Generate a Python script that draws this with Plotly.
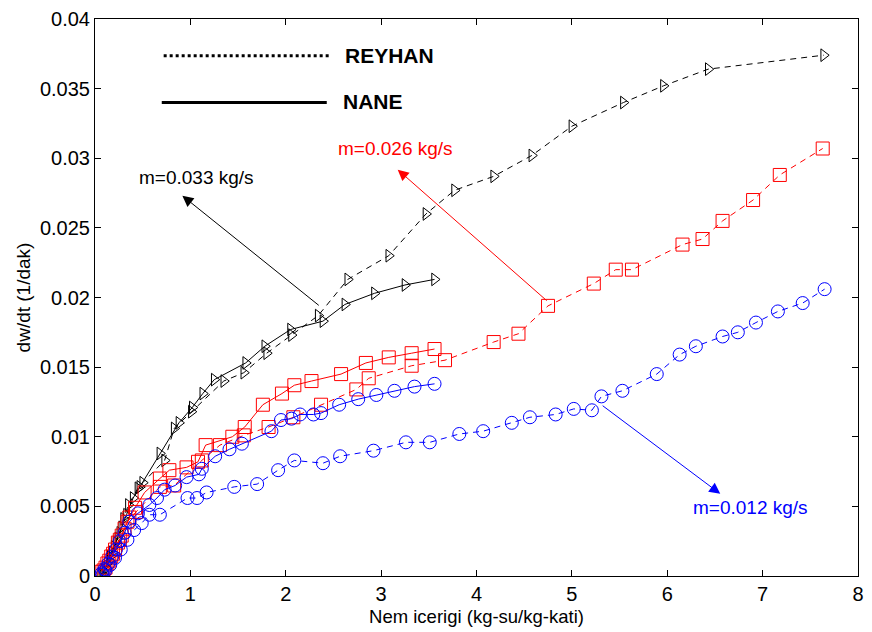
import plotly.graph_objects as go

# Drying rate curves: moisture content (kg water / kg solid) vs dw/dt (1/min)
# REYHAN = dashed lines, NANE = solid lines, three air mass flow rates

# m = 0.033 kg/s
reyhan_033_x = [0.08, 0.11, 0.15, 0.18, 0.22, 0.26, 0.30, 0.35, 0.45, 0.50, 0.73, 0.83, 1.01,
                1.35, 1.56, 1.80, 2.06, 2.34, 2.65, 3.08, 3.47, 3.77, 4.18, 4.58, 5.00, 5.54,
                5.96, 6.43, 7.64]
reyhan_033_y = [0.0001, 0.0006, 0.0011, 0.0017, 0.0024, 0.0031, 0.0041, 0.0051, 0.0063, 0.0067,
                0.0083, 0.0106, 0.0118, 0.0140, 0.0146, 0.0160, 0.0173, 0.0187, 0.0213, 0.0230,
                0.0260, 0.0277, 0.0287, 0.0302, 0.0323, 0.0340, 0.0352, 0.0364, 0.0374]
nane_033_x = [0.06, 0.09, 0.13, 0.16, 0.20, 0.24, 0.28, 0.33, 0.40, 0.47, 0.68, 0.88, 1.02,
              1.13, 1.25, 1.58, 1.78, 2.05, 2.39, 2.62, 2.93, 3.25, 3.56]
nane_033_y = [0.0001, 0.0004, 0.0009, 0.0014, 0.0021, 0.0027, 0.0035, 0.0044, 0.0056, 0.0064,
              0.0088, 0.0110, 0.0121, 0.0131, 0.0141, 0.0153, 0.0165, 0.0177, 0.0183, 0.0195,
              0.0203, 0.0209, 0.0213]

# m = 0.026 kg/s
reyhan_026_x = [0.07, 0.11, 0.15, 0.19, 0.24, 0.28, 0.34, 0.43, 0.68, 0.83, 1.12, 1.31, 1.56,
                1.82, 2.08, 2.37, 2.74, 2.87, 3.32, 3.67, 4.18, 4.44, 4.75, 5.23, 5.46, 5.63,
                6.16, 6.37, 6.58, 6.90, 7.18, 7.63]
reyhan_026_y = [0.0003, 0.0006, 0.0011, 0.0016, 0.0024, 0.0029, 0.0039, 0.0046, 0.0064, 0.0065,
                0.0083, 0.0094, 0.0101, 0.0107, 0.0114, 0.0123, 0.0134, 0.0142, 0.0151, 0.0155,
                0.0168, 0.0174, 0.0194, 0.0210, 0.0220, 0.0220, 0.0238, 0.0242, 0.0255, 0.0270,
                0.0288, 0.0307]
nane_026_x = [0.09, 0.13, 0.17, 0.21, 0.26, 0.31, 0.36, 0.42, 0.52, 0.68, 0.78, 0.96, 1.08,
              1.16, 1.44, 1.57, 1.76, 1.96, 2.09, 2.27, 2.58, 2.84, 3.08, 3.32, 3.56]
nane_026_y = [0.0004, 0.0009, 0.0014, 0.0019, 0.0026, 0.0034, 0.0042, 0.0049, 0.0060, 0.0070,
              0.0076, 0.0078, 0.0082, 0.0094, 0.0100, 0.0107, 0.0123, 0.0131, 0.0137, 0.0140,
              0.0145, 0.0153, 0.0157, 0.0160, 0.0163]

# m = 0.012 kg/s
reyhan_012_x = [0.08, 0.11, 0.16, 0.21, 0.27, 0.34, 0.41, 0.49, 0.57, 0.68, 0.97, 1.07, 1.17,
                1.46, 1.70, 1.92, 2.09, 2.39, 2.57, 2.92, 3.26, 3.51, 3.82, 4.07, 4.37, 4.56,
                4.83, 5.02, 5.21, 5.31, 5.53, 5.89, 6.13, 6.30, 6.58, 6.74, 6.93, 7.16, 7.42,
                7.65]
reyhan_012_y = [0.0001, 0.0004, 0.0008, 0.0013, 0.0019, 0.0026, 0.0033, 0.0038, 0.0044, 0.0044,
                0.0056, 0.0056, 0.0060, 0.0064, 0.0066, 0.0076, 0.0083, 0.0081, 0.0086, 0.0090,
                0.0096, 0.0096, 0.0102, 0.0104, 0.0110, 0.0114, 0.0116, 0.0120, 0.0119, 0.0129,
                0.0133, 0.0145, 0.0159, 0.0165, 0.0172, 0.0175, 0.0182, 0.0190, 0.0196, 0.0206]
nane_012_x = [0.07, 0.10, 0.14, 0.18, 0.22, 0.26, 0.31, 0.36, 0.45, 0.57, 0.65, 0.73, 0.84,
              0.96, 1.09, 1.12, 1.26, 1.41, 1.54, 1.85, 1.95, 2.06, 2.15, 2.29, 2.37, 2.56,
              2.76, 2.95, 3.14, 3.35, 3.56]
nane_012_y = [0.0002, 0.0005, 0.0009, 0.0014, 0.0019, 0.0025, 0.0031, 0.0039, 0.0045, 0.0051,
              0.0056, 0.0062, 0.0065, 0.0071, 0.0073, 0.0077, 0.0086, 0.0091, 0.0095, 0.0104,
              0.0112, 0.0113, 0.0116, 0.0116, 0.0117, 0.0123, 0.0127, 0.0130, 0.0133, 0.0136,
              0.0138]

x_ticks = [0, 1, 2, 3, 4, 5, 6, 7, 8]
y_ticks = [0, 0.005, 0.01, 0.015, 0.02, 0.025, 0.03, 0.035, 0.04]

BLACK, RED, BLUE = "#000000", "#ff0000", "#0000ff"
FONT = "Liberation Sans, Arial, sans-serif"

series = [
    (reyhan_033_x, reyhan_033_y, BLACK, "triangle-right-open", 11, "6px,5px"),
    (nane_033_x, nane_033_y, BLACK, "triangle-right-open", 11, "solid"),
    (reyhan_026_x, reyhan_026_y, RED, "square-open", 13, "6px,5px"),
    (nane_026_x, nane_026_y, RED, "square-open", 13, "solid"),
    (reyhan_012_x, reyhan_012_y, BLUE, "circle-open", 13, "6px,5px"),
    (nane_012_x, nane_012_y, BLUE, "circle-open", 13, "solid"),
]

fig = go.Figure()
for xs, ys, col, sym, size, dash in series:
    fig.add_trace(go.Scatter(
        x=xs, y=ys, mode="lines+markers",
        line=dict(color=col, width=1, dash=dash),
        marker=dict(symbol=sym, size=size, color=col, line=dict(color=col, width=1)),
        showlegend=False, hoverinfo="skip",
    ))

# key in the upper-left corner
fig.add_shape(type="line", xref="x", yref="y", x0=0.72, x1=2.45, y0=0.03736, y1=0.03736,
              line=dict(color=BLACK, width=3, dash="dot"))
fig.add_shape(type="line", xref="x", yref="y", x0=0.70, x1=2.43, y0=0.0340, y1=0.0340,
              line=dict(color=BLACK, width=3))
for label, lx, ly in [("REYHAN", 2.60, 0.03736), ("NANE", 2.58, 0.0341)]:
    fig.add_annotation(x=lx, y=ly, xref="x", yref="y", text=f"<b>{label}</b>", showarrow=False,
                       xanchor="left", yanchor="middle",
                       font=dict(family=FONT, size=21, color=BLACK))

# flow-rate labels with pointer arrows
arrows = [
    ("m=0.033 kg/s", BLACK, 1.06, 0.0286, 0.916, 0.02731, 2.362, 0.01935),
    ("m=0.026 kg/s", RED, 3.153, 0.0307, 3.174, 0.02918, 4.752, 0.01968),
    ("m=0.012 kg/s", BLUE, 6.878, 0.0049, 6.556, 0.0059, 5.307, 0.01231),
]
for text, col, tx, ty, hx, hy, sx, sy in arrows:
    fig.add_annotation(x=hx, y=hy, ax=sx, ay=sy, xref="x", yref="y", axref="x", ayref="y",
                       text="", showarrow=True, arrowhead=2, arrowsize=2.2, arrowwidth=1,
                       arrowcolor=col)
    fig.add_annotation(x=tx, y=ty, xref="x", yref="y", text=text, showarrow=False,
                       xanchor="center", yanchor="middle",
                       font=dict(family=FONT, size=19, color=col))

axis_common = dict(
    showgrid=False, zeroline=False, showline=True, linecolor=BLACK, linewidth=1,
    mirror="ticks", ticks="inside", ticklen=6, tickwidth=1, tickcolor=BLACK,
    tickfont=dict(family=FONT, size=20, color=BLACK),
)
fig.update_xaxes(range=[0, 8], tickvals=x_ticks, ticktext=[str(v) for v in x_ticks],
                 title=dict(text="Nem icerigi (kg-su/kg-kati)", standoff=6,
                            font=dict(family=FONT, size=18.5, color=BLACK)),
                 **axis_common)
fig.update_yaxes(range=[0, 0.04], tickvals=y_ticks, ticktext=[f"{v:g}" for v in y_ticks],
                 title=dict(text="dw/dt (1/dak)", standoff=4,
                            font=dict(family=FONT, size=19, color=BLACK)),
                 **axis_common)

fig.update_layout(
    width=872, height=632,
    margin=dict(l=95, r=8, t=14, b=56),
    paper_bgcolor="white", plot_bgcolor="white",
)

fig.write_html("out.html")
